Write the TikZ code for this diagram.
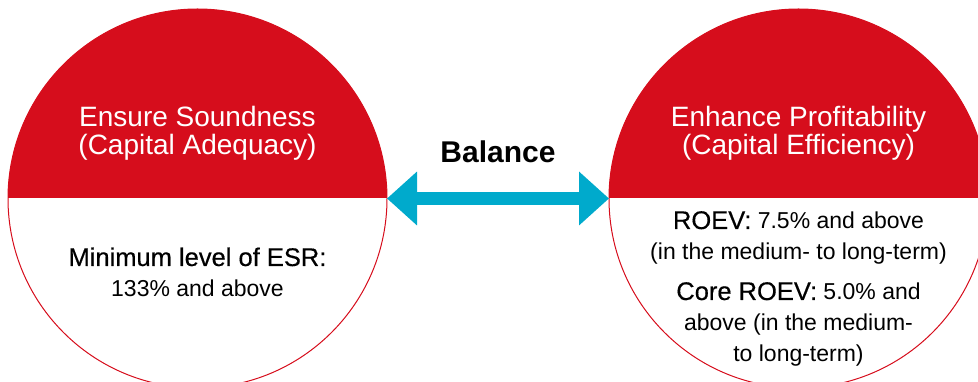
\documentclass[tikz,border=0pt]{standalone}
\usepackage{fontspec}
\setmainfont{Liberation Sans}
\newfontfamily\medfont[FakeBold=0.4]{Liberation Sans}
\usetikzlibrary{positioning}
\usetikzlibrary{arrows.meta}
\definecolor{goalred}{RGB}{214, 13, 28}
\definecolor{cyan2}{RGB}{0, 170, 204}
\newcommand\keyfig[1]{{\medfont\fontsize{25.5}{31}\selectfont #1}}
\tikzset{
goal/.style={circle, draw=goalred, line width=1pt, minimum size=379pt, inner sep=0pt, outer sep=0pt,
	path picture={
		\fill[goalred] (path picture bounding box.north west) rectangle (path picture bounding box.east);
	}
},
heading/.style={white, align=center, anchor=base, inner sep=0pt, font=\fontsize{28}{28.5}\selectfont},
target/.style={black, align=center, anchor=base, inner sep=0pt, font=\fontsize{23}{31}\selectfont},
balance/.style={cyan2, line width=13pt, {Triangle[width=52pt,length=30pt]}-{Triangle[width=52pt,length=30pt]}},
}

\begin{document}
\begin{tikzpicture}[x=1pt, y=1pt]
\useasboundingbox (0,0) rectangle (978,382);
\clip (0,0) rectangle (978,382);
%Place the circles
\node[goal] (soundness) at (197.5,183.5) {};
\node[goal] (profit) at (798.5,183.5) {};

%Headings (base is the last line)
\node[heading] (soundhead) at ([yshift=43.5pt]soundness.center) {Ensure Soundness\\(Capital Adequacy)};
\node[heading] (profithead) at ([yshift=43.5pt]profit.center) {Enhance Profitability\\(Capital Efficiency)};

%Targets
\node[target] (esr) at ([yshift=-98.5pt]soundness.center) {\keyfig{Minimum level of ESR:}\\133\% and above};
\node[target] (roev) at ([yshift=-61.5pt]profit.center) {\keyfig{ROEV:} 7.5\% and above\\(in the medium- to long-term)};
\node[target] (coreroev) at ([yshift=-163.5pt]profit.center) {\keyfig{Core ROEV:} 5.0\% and\\above (in the medium-\\to long-term)};

%
\draw[balance] (soundness.east) -- node[midway, anchor=base, yshift=35.5pt, text=black, font=\bfseries\fontsize{30}{30}\selectfont] (balancetext) {Balance} (profit.west);

\end{tikzpicture}
\end{document}
